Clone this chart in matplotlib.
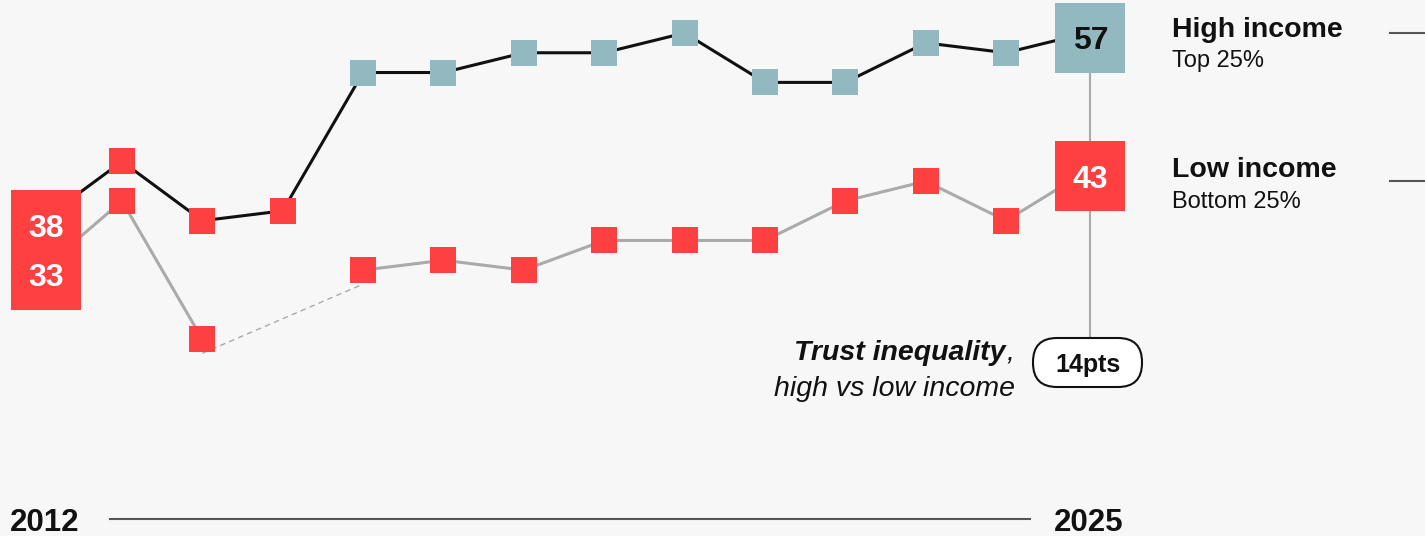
import numpy as np
import matplotlib
matplotlib.use('Agg')
import matplotlib.pyplot as plt
import matplotlib.transforms as mtransforms
from matplotlib.patches import FancyBboxPatch

plt.rcParams['font.family'] = ['Liberation Sans', 'DejaVu Sans']

# data
years = list(range(2012, 2026))
high_income = [38, 44, 38, 39, 53, 53, 55, 55, 57, 52, 52, 56, 55, 57]
low_income = [33, 40, 26, np.nan, 33, 34, 33, 36, 36, 36, 40, 42, 38, 43]
series_names = ['High income', 'Low income']
series_subs = ['Top 25%', 'Bottom 25%']
gap_label = '14pts'
note_bold = 'Trust inequality'
note_rest = 'high vs low income'

RED = '#ff4040'
TEAL = '#93b9c0'
BG = '#f7f7f7'
GREY = '#aaaaaa'
DARK = '#555555'
W, H = 1425, 536


def marker_color(v):
    return RED if v < 50 else TEAL


fig = plt.figure(figsize=(W / 100, H / 100), dpi=100)
fig.patch.set_facecolor(BG)

# back axes in pixel coords for labels and decorations
ov = fig.add_axes([0, 0, 1, 1])
ov.set_facecolor(BG)
ov.axis('off')
ov.set_xlim(0, W)
ov.set_ylim(H, 0)

# main axes on top: years on x, trust score on y
ax = fig.add_axes([0, 0, 1, 1])
ax.patch.set_alpha(0)
ax.axis('off')
ax.set_xlim(2011.482, 2029.214)
ax.set_ylim(6.09, 60.34)

# lines
ax.plot(years, high_income, color='#111111', lw=2.2, zorder=2, solid_capstyle='butt')
ax.plot(years, low_income, color=GREY, lw=2.2, zorder=2, solid_capstyle='butt')

# dashed bridge across the missing low-income year
low = np.array(low_income, dtype=float)
miss = np.where(np.isnan(low))[0]
dash_tr = mtransforms.offset_copy(ax.transData, fig=fig, x=0, y=-14, units='dots')
for m in miss:
    a, b = m - 1, m + 1
    ax.plot([years[a], years[b]], [low[a], low[b]], color=GREY, lw=1.0,
            ls=(0, (4, 3)), transform=dash_tr, zorder=1)

# small square markers
for series in (high_income, low_income):
    for yr, v in zip(years[1:-1], series[1:-1]):
        if np.isnan(v):
            continue
        ax.plot([yr], [v], marker='s', ms=18.7, mew=0, color=marker_color(v), zorder=3)

# big end boxes with values
box_tr = mtransforms.offset_copy(ax.transData, fig=fig, x=4, y=-4.7, units='dots')
txt_tr = mtransforms.offset_copy(ax.transData, fig=fig, x=4, y=-4.7 - 11.5, units='dots')
for series in (low_income, high_income):
    for idx in (0, -1):
        v = series[idx]
        c = marker_color(v)
        ax.plot([years[idx]], [v], marker='s', ms=50.4, mew=0, color=c,
                transform=box_tr, zorder=5)
        ax.text(years[idx], v, f'{v:.0f}', transform=txt_tr, ha='center', va='baseline',
                fontsize=23, fontweight='bold', color='#111111' if c == TEAL else 'white',
                zorder=6)

# vertical gap connector (behind the boxes) and pill
ov.plot([1090, 1090], [72, 338], color=GREY, lw=1.5, zorder=1)
pill = FancyBboxPatch((1033, 338), 109, 49, boxstyle='round,pad=0,rounding_size=24',
                      facecolor='white', edgecolor='#111111', lw=1.5, zorder=7)
ov.add_patch(pill)
ov.text(1088, 372, gap_label, ha='center', va='baseline', fontsize=18,
        fontweight='bold', color='#111111', zorder=8)

# annotation
ov.text(1006, 360, note_bold, ha='right', va='baseline', fontsize=20.5,
        fontweight='bold', style='italic', color='#111111')
ov.text(1006, 360, ',', ha='left', va='baseline', fontsize=20.5, style='italic',
        color='#111111')
ov.text(1015, 396, note_rest, ha='right', va='baseline', fontsize=20.5,
        style='italic', color='#111111')

# legend on the right
for name, sub, base, ly in zip(series_names, series_subs, (36.7, 177), (32.7, 180.7)):
    ov.text(1172, base, name, ha='left', va='baseline', fontsize=20.5,
            fontweight='bold', color='#111111')
    ov.text(1172, base + 30.5, sub, ha='left', va='baseline', fontsize=17,
            color='#111111')
    ov.plot([1390, W], [ly, ly], color=DARK, lw=1.5)

# bottom year axis
ov.text(10, 531, str(years[0]), ha='left', va='baseline', fontsize=22.5,
        fontweight='bold', color='#111111')
ov.text(1089, 531, str(years[-1]), ha='center', va='baseline', fontsize=22.5,
        fontweight='bold', color='#111111')
ov.plot([110, 1030], [519, 519], color=DARK, lw=1.5)

fig.savefig('out.png', dpi=100, facecolor=BG)
